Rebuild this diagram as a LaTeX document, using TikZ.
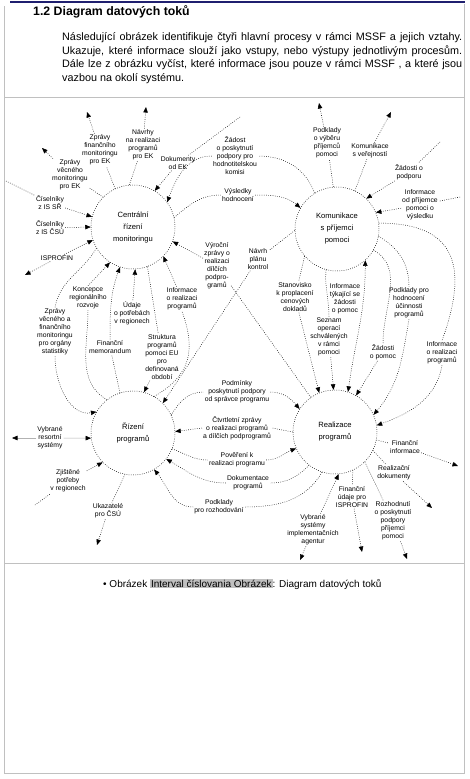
\documentclass[tikz,border=0pt]{standalone}
\usepackage{fontspec}
\setmainfont{Liberation Sans}
\usetikzlibrary{arrows.meta}
\definecolor{framegray}{HTML}{C0C0C0}
\definecolor{navyc}{HTML}{1F1F6F}
\definecolor{hlgray}{HTML}{C0C0C0}
\newcommand{\hlbox}[1]{{\setlength{\fboxsep}{1pt}\colorbox{hlgray}{#1}}}
\begin{document}
\begin{tikzpicture}[x=1pt,y=1pt,
  proc/.style={circle, draw, line width=0.5pt, dash pattern=on 0.7pt off 1.5pt, minimum size=84pt, inner sep=0pt, align=center, font=\fontsize{7.6}{12}\selectfont},
  lbl/.style={align=center, inner sep=1pt, font=\fontsize{6.8}{8}\selectfont},
  seg/.style={draw, line width=0.5pt, dash pattern=on 0.7pt off 1.5pt},
  flow/.style={seg, -{Triangle[length=5.5pt,width=4.5pt]}},
  flowtwo/.style={seg, {Triangle[length=5.5pt,width=4.5pt]}-{Triangle[length=5.5pt,width=4.5pt]}},
  gflow/.style={draw=gray!60, line width=0.6pt, -{Triangle[length=5.5pt,width=4.5pt,color=black]}},
  frameline/.style={draw=framegray, line width=0.9pt},
  para/.style={anchor=base west, inner sep=0pt, font=\fontsize{10.8}{13}\selectfont}
]
\fill[white] (0,0) rectangle (470,-779);
\useasboundingbox (0,0) rectangle (470,-779);
% frame
\draw[navyc, line width=1.3pt] (10,-2) -- (465,-2);
\draw[frameline] (4,-6) -- (4,-773) -- (464,-773) -- (464,-4);
\draw[frameline] (4,-97) -- (464,-97);
\draw[frameline] (4,-563) -- (464,-563);
% heading and text
\node[anchor=base west, inner sep=0pt, font=\fontsize{12.3}{14}\selectfont\bfseries] (title) at (33,-15) {1.2 Diagram datových toků};
\node[para] (p1) at (62,-40) {\makebox[400pt][s]{Následující obrázek identifikuje čtyři hlavní procesy v rámci MSSF a jejich vztahy.}};
\node[para] (p2) at (62,-54) {\makebox[400pt][s]{Ukazuje, které informace slouží jako vstupy, nebo výstupy jednotlivým procesům.}};
\node[para] (p3) at (62,-67.7) {\makebox[400pt][s]{Dále lze z obrázku vyčíst, které informace jsou pouze v rámci MSSF , a které jsou}};
\node[para] (p4) at (62,-81) {vazbou na okolí systému.};
\node[anchor=base west, inner sep=0pt, font=\fontsize{10}{12}\selectfont] (cap) at (103,-587) {\textbullet\ Obrázek \hlbox{Interval číslovania Obrázek}: Diagram datových toků};

% processes
\node[proc] (CRM) at (133,-227) {Centrální\\řízení\\monitoringu};
\node[proc] (KOM) at (337,-229) {Komunikace\\s příjemci\\pomoci};
\node[proc] (RIZ) at (133,-433) {Řízení\\programů};
\node[proc] (REA) at (335,-432) {Realizace\\programů};

% labels
\node[lbl] (L1) at (100,-150) {Zprávy\\finančního\\monitoringu\\pro EK};
\node[lbl] (L2) at (143,-145) {Návrhy\\na realizaci\\programů\\pro EK};
\node[lbl] (L3) at (70,-175) {Zprávy\\věcného\\monitoringu\\pro EK};
\node[lbl] (L4) at (178,-163) {Dokumenty\\od EK};
\node[lbl] (L5) at (50,-203) {Číselníky\\z IS SŘ};
\node[lbl] (L6) at (50,-228) {Číselníky\\z IS ČSÚ};
\node[lbl] (L7) at (57,-258) {ISPROFIN};
\node[lbl] (L8) at (235,-156) {Žádost\\o poskytnutí\\podpory pro\\hodnotitelskou\\komisi};
\node[lbl] (L9) at (238,-195) {Výsledky\\hodnocení};
\node[lbl] (L10) at (217,-266) {Výroční\\zprávy o\\realizaci\\dílčích\\podpro-\\gramů};
\node[lbl] (L11) at (258,-259) {Návrh\\plánu\\kontrol};
\node[lbl] (L12) at (182,-299) {Informace\\o realizaci\\programů};
\node[lbl] (L13) at (162,-357) {Struktura\\programů\\pomoci EU\\pro\\definovaná\\období};
\node[lbl] (L14) at (88,-298) {Koncepce\\regionálního\\rozvoje};
\node[lbl] (L15) at (55,-332) {Zprávy\\věcného a\\finančního\\monitoringu\\pro orgány\\statistiky};
\node[lbl] (L16) at (110,-347) {Finanční\\memorandum};
\node[lbl] (L17) at (132,-313) {Údaje\\o potřebách\\v regionech};
\node[lbl] (L18) at (237,-392) {Podmínky\\poskytnutí podpory\\od správce programu};
\node[lbl] (L19) at (237,-428) {Čtvrtletní zprávy\\o realizaci programů\\a dílčích podprogramů};
\node[lbl] (L20) at (237,-460) {Pověření k\\realizaci programu};
\node[lbl] (L21) at (248,-483) {Dokumentace\\programů};
\node[lbl] (L22) at (219,-507) {Podklady\\pro rozhodování};
\node[lbl] (L23) at (405,-447) {Finanční\\informace};
\node[lbl] (L24) at (394,-473) {Realizační\\dokumenty};
\node[lbl] (L25) at (393,-521) {Rozhodnutí\\o poskytnutí\\podpory\\příjemci\\pomoci};
\node[lbl] (L26) at (352,-497) {Finanční\\údaje pro\\ISPROFIN};
\node[lbl] (L27) at (313,-530) {Vybrané\\systémy\\implementačních\\agentur};
\node[lbl] (L28) at (327,-143) {Podklady\\o výběru\\příjemců\\pomoci};
\node[lbl] (L29) at (370,-151) {Komunikace\\s veřejností};
\node[lbl] (L30) at (409,-172) {Žádosti o\\podporu};
\node[lbl] (L31) at (420,-205) {Informace\\od příjemce\\pomoci o\\výsledku};
\node[lbl] (L32) at (295,-297) {Stanovisko\\k proplacení\\cenových\\dokladů};
\node[lbl] (L33) at (329,-337) {Seznam\\operací\\schválených\\v rámci\\pomoci};
\node[lbl] (L34) at (345,-299) {Informace\\týkající se\\žádosti\\o pomoc};
\node[lbl] (L35) at (383,-352) {Žádosti\\o pomoc};
\node[lbl] (L36) at (409,-303) {Podklady pro\\hodnocení\\účinnosti\\programů};
\node[lbl] (L37) at (442,-353) {Informace\\o realizaci\\programů};
\node[lbl] (L38) at (50,-438) {Vybrané\\resortní\\systémy};
\node[lbl] (L39) at (68,-481) {Zjištěné\\potřeby\\v regionech};
\node[lbl] (L40) at (108,-511) {Ukazatelé\\pro ČSÚ};

% free ends
\coordinate (e1) at (87,-112);
\coordinate (e2) at (146,-107);
\coordinate (e3) at (42,-148);
\coordinate (e4) at (240,-117);
\coordinate (e5) at (6,-181);
\coordinate (e7) at (25,-275);
\coordinate (e23) at (458,-466);
\coordinate (e24) at (432,-508);
\coordinate (e25) at (407,-559);
\coordinate (e26) at (362,-552);
\coordinate (e27) at (300,-560);
\coordinate (e28) at (319,-103);
\coordinate (e29) at (391,-112);
\coordinate (e30) at (440,-142);
\coordinate (e31) at (460,-197);
\coordinate (e38) at (12,-438);
\coordinate (e39) at (35,-505);
\coordinate (e40) at (97,-545);

% Centralni rizeni monitoringu
\draw[seg] (CRM.115) -- (L1); \draw[flow] (L1) -- (e1);
\draw[seg] (CRM.95) -- (L2); \draw[flow] (L2) -- (e2);
\draw[seg] (CRM.135) -- (L3); \draw[flow] (L3) -- (e3);
\draw[seg] (e4) -- (L4); \draw[flow] (L4) -- (CRM.59);
\draw[seg] (e5) -- (L5); \draw[flow] (L5) -- (CRM.166);
\draw[flow] (L6) -- (CRM.180);
\draw[flow] (L7) -- (CRM.198); \draw[flow] (L7) -- (e7);
% CRM - KOM
\draw[seg] (KOM.122) to[out=110,in=0] (L8.east);
\draw[flow] (L8.west) to[out=180,in=70] (CRM.36);
\draw[seg] (CRM.13) to[out=40,in=180] (L9.west);
\draw[flow] (L9.east) to[out=0,in=140] (KOM.150);
% cross links
\draw[seg] (REA.125) -- (L10); \draw[flow] (L10) -- (CRM.340);
\draw[seg] (KOM.182) -- (L11); \draw[flow] (L11) -- (RIZ.45);
\draw[seg] (RIZ.60) to[out=30,in=-70,looseness=1.2] (L12.south); \draw[flow] (L12) -- (CRM.316);
\draw[seg] (CRM.290) -- (L13); \draw[flow] (L13) -- (RIZ.75);
% CRM - RIZ
\draw[seg] (RIZ.128) to[out=150,in=-90] (L14.south); \draw[flow] (L14.north) -- (CRM.237);
\draw[seg] (CRM.210) to[out=240,in=80] (L15.north);
\draw[flow] (L15.south) to[out=-90,in=190] (RIZ.150);
\draw[seg] (RIZ.108) -- (L16); \draw[flow] (L16.north) to[out=90,in=250] (CRM.252);
\draw[flow] (L17) -- (CRM.273);
% RIZ - REA
\draw[seg] (RIZ.25) to[out=60,in=180] (L18.west);
\draw[flow] (L18.east) to[out=0,in=130] (REA.147);
\draw[seg] (REA.180) -- (L19.east); \draw[flow] (L19.west) -- (RIZ.2);
\draw[seg] (RIZ.338) to[out=-20,in=180] (L20.west);
\draw[flow] (L20.east) to[out=0,in=200] (REA.203);
\draw[seg] (REA.232) to[out=225,in=0] (L21.east);
\draw[flow] (L21.west) to[out=180,in=-30] (RIZ.322);
\draw[seg] (REA.252) to[out=240,in=0] (L22.east);
\draw[flow] (L22.west) to[out=180,in=-50] (RIZ.300);
% REA outputs
\draw[seg] (REA.349) -- (L23); \draw[flow] (L23) -- (e23);
\draw[seg] (REA.334) -- (L24); \draw[flow] (L24) -- (e24);
\draw[seg] (REA.315) -- (L25); \draw[flow] (L25) -- (e25);
\draw[seg] (REA.295) -- (L26); \draw[flow] (L26) -- (e26);
\draw[flow] (L27) -- (REA.275); \draw[flow] (L27) -- (e27);
% KOM
\draw[seg] (KOM.95) -- (L28); \draw[flow] (L28) -- (e28);
\draw[seg] (KOM.65) -- (L29); \draw[flow] (L29) -- (e29);
\draw[seg] (e30) -- (L30); \draw[flow] (L30) -- (KOM.46);
\draw[seg] (e31) -- (L31); \draw[flow] (L31) -- (KOM.23);
% KOM - REA
\draw[seg] (KOM.220) -- (L32); \draw[flow] (L32) -- (REA.112);
\draw[seg] (KOM.255) to[out=-95,in=90] (L33.north); \draw[flow] (L33) -- (REA.92);
\draw[flowtwo] (REA.72) to[out=82,in=-90] (KOM.312);
\draw[seg] (KOM.330) to[out=-30,in=90] (L35.north); \draw[flow] (L35) -- (REA.60);
\draw[seg] (KOM.350) to[out=-30,in=90] (L36.north);
\draw[flow] (L36.south) to[out=-100,in=50] (REA.24);
\draw[seg] (KOM.8) to[out=0,in=70,looseness=1.5] (L37.north);
\draw[flow] (L37.south) to[out=-100,in=20] (REA.9);
% RIZ others
\draw[gflow] (L38) -- (e38); \draw[gflow] (L38) -- (RIZ.187);
\draw[seg] (e39) -- (L39); \draw[flow] (L39) -- (RIZ.224);
\draw[seg] (RIZ.259) -- (L40); \draw[flow] (L40) -- (e40);
\end{tikzpicture}
\end{document}
